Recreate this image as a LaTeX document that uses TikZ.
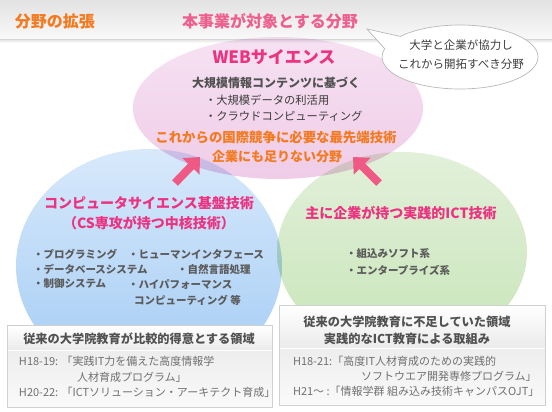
\documentclass[tikz,border=0pt]{standalone}
\usepackage{fontspec}
\setmainfont{Noto Sans CJK JP}
\usetikzlibrary{arrows.meta,shadows}
\definecolor{orangeT}{HTML}{F47A20}
\definecolor{pinkHdr}{HTML}{EE5F8E}
\definecolor{pinkT}{HTML}{EC3280}
\definecolor{darkT}{HTML}{3E3E3E}
\definecolor{grayT}{HTML}{707070}
\definecolor{arrowC}{HTML}{EE5A84}
\definecolor{hdrTop}{HTML}{E2E2E2}
\definecolor{hdrBot}{HTML}{F9F9F9}
\definecolor{lineC}{HTML}{D6D6D6}
\definecolor{pinkTop}{HTML}{F6E2F3}
\definecolor{pinkBot}{HTML}{F0CCE7}
\definecolor{blueTop}{HTML}{D8E9FB}
\definecolor{blueBot}{HTML}{A2CBF4}
\definecolor{greenTop}{HTML}{E2F0DA}
\definecolor{greenBot}{HTML}{C8E5B8}
\definecolor{boxLine}{HTML}{D0D0D0}
\definecolor{bubLine}{HTML}{B8B8B8}
\begin{document}
\begin{tikzpicture}[x=1pt,y=-1pt,
  every node/.style={inner sep=0pt,outer sep=0pt},
  hdrtext/.style={font=\fontsize{16}{18}\selectfont\bfseries},
  webtitle/.style={font=\fontsize{17}{20}\selectfont\bfseries,text=pinkT},
  subhead/.style={font=\fontsize{12}{14}\selectfont\bfseries,text=darkT!90},
  bullet/.style={font=\fontsize{11.3}{13}\selectfont,text=darkT!95!black,anchor=west},
  smallbullet/.style={font=\fontsize{10.5}{12}\selectfont\bfseries,text=darkT!85,anchor=west},
  orangetext/.style={font=\fontsize{13.4}{16}\selectfont\bfseries,text=orangeT},
  pinktitle/.style={font=\fontsize{14}{16}\selectfont\bfseries,text=pinkT},
  boxhead/.style={font=\fontsize{12.2}{14}\selectfont\bfseries,text=darkT!90},
  boxbody/.style={font=\fontsize{11}{13}\selectfont,text=grayT,anchor=west},
  bubtext/.style={font=\fontsize{11.5}{13}\selectfont,text=darkT},
  bigarrow/.style={draw=arrowC,line width=8pt,-{Triangle[width=23pt,length=13pt]}},
  boxframe/.style={draw=boxLine,line width=0.6pt,fill=white,drop shadow={opacity=0.25,shadow xshift=1pt,shadow yshift=-1.2pt}},
]
\useasboundingbox (0,0) rectangle (552,412);
% header band
\shade[top color=hdrTop,bottom color=hdrBot] (0,0) rectangle (552,39);
\shade[top color=black!10,bottom color=white] (0,39.5) rectangle (552,43);
\draw[lineC,line width=0.8pt] (0,39.5) -- (552,39.5);
\node[hdrtext,text=orangeT] (fieldext) at (55,21) {分野の拡張};
\node[hdrtext,text=pinkHdr] (target) at (270,21) {本事業が対象とする分野};

% circles
\shade[top color=blueTop,bottom color=blueBot] (149,266) ellipse [x radius=133,y radius=117];
\begin{scope}[blend mode=multiply]
\shade[top color=greenTop,bottom color=greenBot] (402,252) ellipse [x radius=125,y radius=100];
\shade[top color=pinkTop,bottom color=pinkBot] (278,108) ellipse [x radius=145,y radius=71];
\end{scope}

% speech bubble
\coordinate (tip) at (367,29);
\filldraw[fill=white,draw=bubLine,line width=0.7pt] (tip) -- (400.25,36.43)
  arc[start angle=220,end angle=555,x radius=78,y radius=32] -- cycle;
\node[bubtext] (bub1) at (461,45) {大学と企業が協力し};
\node[bubtext] (bub2) at (461,64) {これから開拓すべき分野};

% arrows
\coordinate (la0) at (175,183);
\coordinate (la1) at (200,157);
\coordinate (ra0) at (379,183);
\coordinate (ra1) at (353,157);
\draw[bigarrow] (la0) -- (la1);
\draw[bigarrow] (ra0) -- (ra1);

% pink ellipse texts
\node[webtitle] (web) at (274,57) {WEBサイエンス};
\node[subhead] (web1) at (276,83) {大規模情報コンテンツに基づく};
\node[bullet] (web2) at (205,100) {・大規模データの利活用};
\node[bullet] (web3) at (205,116) {・クラウドコンピューティング};
\node[orangetext] (web4) at (276,137) {これからの国際競争に必要な最先端技術};
\node[orangetext,font=\fontsize{13}{16}\selectfont\bfseries] (web5) at (277,157) {企業にも足りない分野};

% blue texts
\node[pinktitle] (cs1) at (149,203) {コンピュータサイエンス基盤技術};
\node[pinktitle] (cs2) at (149,223) {（CS専攻が持つ中核技術）};
\node[smallbullet] (b1) at (33,254) {・プログラミング};
\node[smallbullet] (b2) at (128,254) {・ヒューマンインタフェース};
\node[smallbullet] (b3) at (33,269) {・データベースシステム};
\node[smallbullet] (b4) at (177,269) {・自然言語処理};
\node[smallbullet] (b5) at (33,284) {・制御システム};
\node[smallbullet] (b6) at (128,284) {・ハイパフォーマンス};
\node[smallbullet] (b7) at (134,300) {コンピューティング 等};

% green texts
\node[pinktitle] (ict) at (401,213) {主に企業が持つ実践的ICT技術};
\node[smallbullet] (g1) at (346,254) {・組込みソフト系};
\node[smallbullet] (g2) at (346,270) {・エンタープライズ系};

% left bottom box
\path[boxframe] (7,325) rectangle (272,407);
\shade[top color=white,bottom color=black!8] (7.3,325.3) rectangle (271.7,350);
\shade[top color=black!7,bottom color=black!2] (7.3,350) rectangle (271.7,406.7);
\draw[boxLine,line width=0.6pt] (7,325) rectangle (272,407);
\draw[white,line width=0.8pt] (7.5,350.5) -- (271.5,350.5);
\node[boxhead] (lh) at (139,339) {従来の大学院教育が比較的得意とする領域};
\node[boxbody] (l1) at (19,361) {H18-19: 「実践IT力を備えた高度情報学};
\node[boxbody] (l2) at (77,377) {人材育成プログラム」};
\node[boxbody] (l3) at (19,392) {H20-22: 「ICTソリューション・アーキテクト育成」};

% right bottom box
\path[boxframe] (279,305) rectangle (545,405);
\shade[top color=white,bottom color=black!8] (279.3,305.3) rectangle (544.7,348);
\shade[top color=black!7,bottom color=black!2] (279.3,348) rectangle (544.7,404.7);
\draw[boxLine,line width=0.6pt] (279,305) rectangle (545,405);
\draw[white,line width=0.8pt] (279.5,348.5) -- (544.5,348.5);
\node[boxhead] (rh1) at (407,322) {従来の大学院教育に不足していた領域};
\node[boxhead] (rh2) at (407,339) {実践的なICT教育による取組み};
\node[boxbody] (r1) at (293,361) {H18-21:「高度IT人材育成のための実践的};
\node[boxbody] (r2) at (361,376) {ソフトウエア開発専修プログラム」};
\node[boxbody] (r3) at (293,391) {H21～ :「情報学群 組み込み技術キャンパスOJT」};
\end{tikzpicture}
\end{document}
